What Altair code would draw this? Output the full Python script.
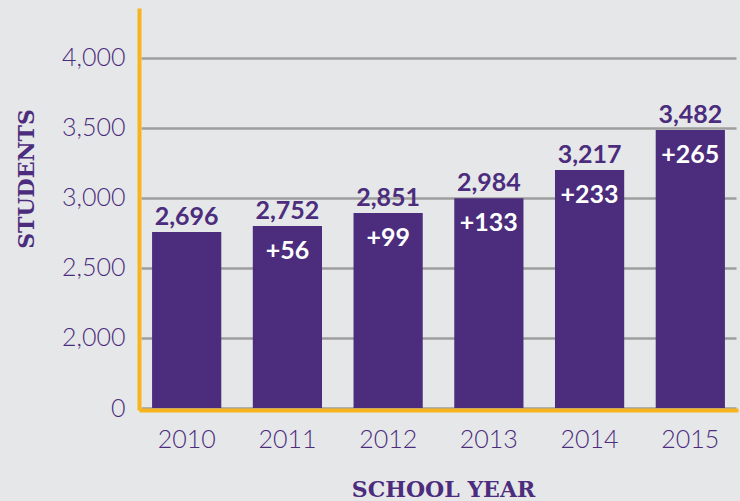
import altair as alt
import pandas as pd

years = ["2010", "2011", "2012", "2013", "2014", "2015"]
students = [2696, 2752, 2851, 2984, 3217, 3482]
# bar heights as drawn in the picture
bar_tops = [2755, 2798, 2891, 2996, 3198, 3483]
changes = ["", "+56", "+99", "+133", "+233", "+265"]
y_ticks = [1500, 2000, 2500, 3000, 3500, 4000]

df = pd.DataFrame({"year": years, "students": students, "top": bar_tops, "change": changes})
df["label"] = [f"{v:,}" for v in students]

PURPLE = "#4b2c7d"
ORANGE = "#f8b41c"
BG = "#e6e7e9"
GRID = "#9e9e9e"

x = alt.X(
    "year:N",
    title="SCHOOL YEAR",
    scale=alt.Scale(paddingInner=0.313, paddingOuter=0.11),
    axis=alt.Axis(
        labelAngle=0, labelFont="Lato", labelFontWeight=300, labelFontSize=25,
        labelColor=PURPLE, labelPadding=17, ticks=False, tickSize=0,
        domainColor=ORANGE, domainWidth=4, domainCap="square", offset=2,
        titleFont="DejaVu Serif", titleFontWeight="bold", titleFontSize=22,
        titleColor=PURPLE, titleBaseline="alphabetic", titleY=86, titleX=302,
    ),
)

y = alt.Y(
    "top:Q",
    title="STUDENTS",
    scale=alt.Scale(domain=[1500, 4340], nice=False, zero=False),
    axis=alt.Axis(
        values=y_ticks,
        labelExpr="datum.value == 1500 ? '0' : format(datum.value, ',')",
        labelFont="Lato", labelFontWeight=300, labelFontSize=25, labelColor=PURPLE,
        labelPadding=14, ticks=False, tickSize=0,
        grid=True, gridColor=GRID, gridWidth=2.5,
        domainColor=ORANGE, domainWidth=4, domainCap="square", offset=2,
        titleFont="DejaVu Serif", titleFontWeight="bold", titleFontSize=22,
        titleColor=PURPLE, titleAngle=-90, titleBaseline="alphabetic",
        titleAlign="center", titleX=-106, titleY=168.5,
    ),
)

base = alt.Chart(df)

bars = base.mark_bar(color=PURPLE).encode(x=x, y=y, y2=alt.datum(1500))

values = base.mark_text(
    dy=-7, baseline="alphabetic", font="Lato", fontWeight="bold", fontSize=25, color=PURPLE
).encode(x="year:N", y="top:Q", text="label:N")

deltas = base.mark_text(
    dy=33, baseline="alphabetic", font="Lato", fontWeight="bold", fontSize=25, color="white"
).encode(x="year:N", y="top:Q", text="change:N")

chart = (
    alt.layer(bars, values, deltas)
    .properties(
        width=595, height=398, background=BG,
        padding={"left": 141, "top": 10, "right": 4, "bottom": 93},
        autosize=alt.AutoSizeParams(type="none"),
    )
    .configure_view(stroke=None)
)

chart.save("out.html", embed_options={"renderer": "svg", "actions": False})
